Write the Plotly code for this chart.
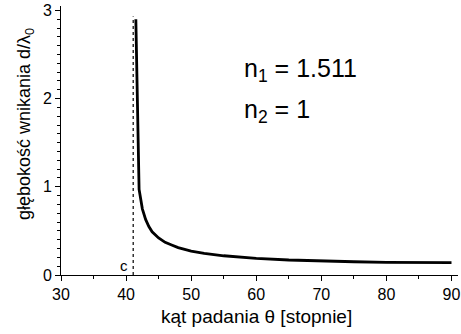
import plotly.graph_objects as go

theta = [41.5, 42.0, 42.5, 43.0, 43.5, 44.0, 45.0, 46.0, 47.0, 48.0, 50.0, 52.0, 55.0,
         60.0, 65.0, 70.0, 75.0, 80.0, 85.0, 90.0]
depth = [2.9, 0.97, 0.75, 0.63, 0.55, 0.49, 0.42, 0.37, 0.34, 0.31, 0.27, 0.245, 0.218,
         0.189, 0.170, 0.158, 0.150, 0.144, 0.141, 0.140]
crit_x = [41.1, 41.1]
crit_y = [0, 2.93]

fig = go.Figure()
fig.add_trace(go.Scatter(x=crit_x, y=crit_y, mode="lines",
                         line=dict(color="#333333", width=1.5, dash="dot"), showlegend=False))
fig.add_trace(go.Scatter(x=theta, y=depth, mode="lines",
                         line=dict(color="black", width=2.8), showlegend=False))

font = "Liberation Sans, Arial, sans-serif"
fig.update_layout(
    width=461, height=334,
    margin=dict(l=61, r=3, t=6, b=59),
    plot_bgcolor="white", paper_bgcolor="white",
    font=dict(family=font, color="black", size=16),
    xaxis=dict(range=[30, 91], tickvals=[30, 40, 50, 60, 70, 80, 90], automargin=False,
               showgrid=False, zeroline=False, showline=True, linecolor="black", linewidth=1,
               ticks="outside", ticklen=5, tickcolor="black",
               minor=dict(dtick=5, tick0=0, ticks="outside", ticklen=3, tickcolor="black"),
               tickfont=dict(size=16)),
    yaxis=dict(range=[0, 3.05], tickvals=[0, 1, 2, 3], automargin=False,
               showgrid=False, zeroline=False, showline=True, linecolor="black", linewidth=1,
               ticks="outside", ticklen=5, tickcolor="black",
               minor=dict(dtick=0.1, tick0=0, ticks="outside", ticklen=3, tickcolor="black"),
               tickfont=dict(size=16)),
    annotations=[
        dict(x=(256 - 61) / 397, y=-(316 - 275) / 269, xref="paper", yref="paper",
             xanchor="center", yanchor="middle", text="kąt padania θ [stopnie]",
             showarrow=False, font=dict(size=19, family=font)),
        dict(x=-(61 - 25) / 397, y=1 - (124 - 6) / 269, xref="paper", yref="paper",
             xanchor="center", yanchor="middle", textangle=-90,
             text="głębokość wnikania d/λ<sub>0</sub>",
             showarrow=False, font=dict(size=18, family=font)),
        dict(x=(242 - 61) / 397, y=0.762, xref="paper", yref="paper", xanchor="left", yanchor="middle",
             text="n<sub>1</sub> = 1.511", showarrow=False, font=dict(size=25, family=font)),
        dict(x=(242 - 61) / 397, y=0.608, xref="paper", yref="paper", xanchor="left", yanchor="middle",
             text="n<sub>2</sub> = 1", showarrow=False, font=dict(size=25, family=font)),
        dict(x=39.7, y=0.11, xref="x", yref="y", xanchor="center", yanchor="middle",
             text="c", showarrow=False, font=dict(size=15, family=font)),
    ],
)
fig.write_html("out.html", config={"displayModeBar": False},
               post_script="document.body.style.margin='0';")
